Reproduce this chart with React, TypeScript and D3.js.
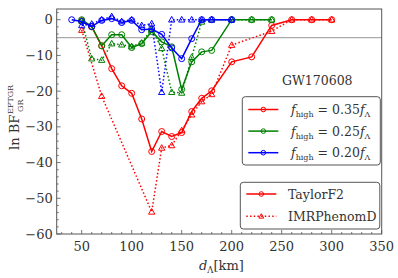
import * as d3 from "d3";

// Taylor F2 (solid, circles)
const dRed = [50, 60, 70, 80, 90, 100, 110, 120, 130, 140, 150, 160, 170, 180, 200, 220, 240, 260, 280, 300];
const redTF2 = [-0.3, -2, -7.3, -13.7, -18.5, -20.6, -27.8, -36.9, -31.3, -32.7, -31.6, -25.7, -22, -19.9, -11.8, -10.4, -1.6, 0, 0, 0];
const dGreen = [50, 60, 70, 80, 90, 100, 110, 120, 130, 140, 150, 160, 170, 180, 200, 220, 240];
const greenTF2 = [0, -1.9, -7.3, -4.2, -4.2, -7.8, -6.7, -3.3, -6.2, -7.6, -19.5, -11.8, -9, -8.6, 0, 0, 0];
const dBlue = [40, 50, 60, 70, 80, 90, 100, 110, 120, 130, 140, 150, 160, 170, 180, 200];
const blueTF2 = [0, -0.5, -1.9, -0.2, 0.3, -0.8, -0.2, -2.8, -2.6, -4.1, -7.9, -10.9, -5.3, 0, 0, 0];

// IMRPhenomD (dotted, triangles)
const dRedIMR = [50, 70, 120, 130, 140, 150, 160, 170, 180, 200, 240, 260, 280, 300];
const redIMR = [-2.9, -21.4, -53.8, -35.9, -35.2, -31, -26.6, -22.9, -20.9, -7.1, -3.2, 0, 0, 0];
const dGreenIMR = [50, 60, 70, 80, 90, 100, 110, 120, 130, 140, 150, 160, 170, 180, 200, 220, 240];
const greenIMR = [-0.3, -10.9, -11.3, -6.7, -7, -7.5, -6.5, -2.6, -8, -20.3, -20.5, -10.5, -0.6, 0, 0, 0, 0];
const dBlueIMR = [50, 60, 70, 80, 90, 100, 110, 120, 130, 140, 150, 160, 170, 180, 200];
const blueIMR = [-1.6, -1.2, 0, 0.9, -0.5, 0, -1.6, -1.1, -20.3, 0, 0, 0, 0, 0, 0];

const xTicks = [50, 100, 150, 200, 250, 300, 350];
const yTicks = [-60, -50, -40, -30, -20, -10, 0];
const threshold = -5;

const RED = "#ff0000";
const GREEN = "#008000";
const BLUE = "#0000ff";
const FONT = "'DejaVu Serif', serif";

const W = 398;
const H = 278;
const x = d3.scaleLinear().domain([25, 350]).range([56.7, 381.7]);
const y = d3.scaleLinear().domain([-60, 3]).range([234, 9]);

const line = d3
  .line<[number, number]>()
  .x((p) => x(p[0]))
  .y((p) => y(p[1]));

const zipPts = (ds: number[], vs: number[]) => ds.map((d, i) => [d, vs[i]] as [number, number]);

const triPath = (cx: number, cy: number, s: number) =>
  `M${cx},${cy - s} L${cx + s * 0.95},${cy + s * 0.7} L${cx - s * 0.95},${cy + s * 0.7} Z`;

function Series({ ds, vs, color, dotted }: { ds: number[]; vs: number[]; color: string; dotted: boolean }) {
  const pts = zipPts(ds, vs);
  return (
    <g>
      <path
        d={line(pts) || ""}
        fill="none"
        stroke={color}
        strokeWidth={1.5}
        strokeDasharray={dotted ? "1.5,2.2" : undefined}
      />
      {pts.map((p, i) =>
        dotted ? (
          <path key={i} d={triPath(x(p[0]), y(p[1]), 3.3)} fill="none" stroke={color} strokeWidth={1} />
        ) : (
          <circle key={i} cx={x(p[0])} cy={y(p[1])} r={3} fill="none" stroke={color} strokeWidth={1} />
        )
      )}
    </g>
  );
}

export default function App() {
  const xMinor = d3.range(30, 351, 10);
  const yMinor = d3.range(-60, 3, 2);
  const [x0, x1] = x.range();
  const [y0, y1] = y.range();
  const legend1 = [
    { c: RED, v: "0.35" },
    { c: GREEN, v: "0.25" },
    { c: BLUE, v: "0.20" },
  ];
  return (
    <svg width={W} height={H} style={{ position: "absolute", left: 0, top: 0, fontFamily: FONT }}>
      <rect width={W} height={H} fill="#fff" />
      {/* threshold line */}
      <line x1={x0} x2={x1} y1={y(threshold)} y2={y(threshold)} stroke="#aaaaaa" strokeWidth={1.2} />

      <Series ds={dRed} vs={redTF2} color={RED} dotted={false} />
      <Series ds={dRedIMR} vs={redIMR} color={RED} dotted={true} />
      <Series ds={dGreen} vs={greenTF2} color={GREEN} dotted={false} />
      <Series ds={dGreenIMR} vs={greenIMR} color={GREEN} dotted={true} />
      <Series ds={dBlue} vs={blueTF2} color={BLUE} dotted={false} />
      <Series ds={dBlueIMR} vs={blueIMR} color={BLUE} dotted={true} />

      {/* frame */}
      <rect x={x0} y={y1} width={x1 - x0} height={y0 - y1} fill="none" stroke="#555" strokeWidth={1} />

      {/* ticks */}
      {xMinor.map((t) => (
        <line key={"xm" + t} x1={x(t)} x2={x(t)} y1={y0} y2={y0 - (t % 50 === 0 ? 4 : 2)} stroke="#555" strokeWidth={0.8} />
      ))}
      {yMinor.map((t) => (
        <line key={"ym" + t} x1={x0} x2={x0 + (t % 10 === 0 ? 4 : 2)} y1={y(t)} y2={y(t)} stroke="#555" strokeWidth={0.8} />
      ))}
      {xTicks.map((t) => (
        <text key={"xt" + t} x={x(t)} y={y0 + 17} textAnchor="middle" fontSize={13} fill="#333">
          {t}
        </text>
      ))}
      {yTicks.map((t) => (
        <text key={"yt" + t} x={x0 - 4} y={y(t) + 4.5} textAnchor="end" fontSize={13} fill="#333">
          {t < 0 ? "\u2212" + Math.abs(t) : t}
        </text>
      ))}

      {/* axis labels */}
      <g transform="translate(19,150) rotate(-90)" fill="#333">
        <text x={0} y={0} fontSize={13}>ln BF</text>
        <text x={36} y={-6} fontSize={8}>EFTGR</text>
        <text x={38} y={4} fontSize={8}>GR</text>
      </g>
      <text x={199} y={270} fontSize={13} fill="#333">
        <tspan fontStyle="italic">d</tspan>
        <tspan fontSize={8.5} dy={3}>Λ</tspan>
        <tspan dy={-3}>[km]</tspan>
      </text>

      <text x={282} y={85} fontSize={12.5} fill="#333">GW170608</text>

      {/* legend 1 */}
      <rect x={242.3} y={96.7} width={138} height={68.3} rx={3} fill="#fff" fillOpacity={0.8} stroke="#555" strokeWidth={1} />
      {legend1.map((e, i) => {
        const ly = 109.5 + i * 21.6;
        return (
          <g key={e.v}>
            <line x1={248.3} x2={278.3} y1={ly} y2={ly} stroke={e.c} strokeWidth={1.5} />
            <circle cx={263.3} cy={ly} r={2.3} fill="none" stroke={e.c} strokeWidth={1} />
            <text x={291} y={ly + 4.5} fontSize={12.5} fill="#333">
              <tspan fontStyle="italic">f</tspan>
              <tspan fontSize={8} dy={3}>high</tspan>
              <tspan dy={-3}> = {e.v}</tspan>
              <tspan fontStyle="italic">f</tspan>
              <tspan fontSize={8} dy={3}>Λ</tspan>
            </text>
          </g>
        );
      })}

      {/* legend 2 */}
      <rect x={240.3} y={182.3} width={139.5} height={46.7} rx={3} fill="#fff" fillOpacity={0.8} stroke="#555" strokeWidth={1} />
      <line x1={246.3} x2={276.3} y1={194} y2={194} stroke={RED} strokeWidth={1.5} />
      <circle cx={261.3} cy={194} r={2.3} fill="none" stroke={RED} strokeWidth={1} />
      <text x={288} y={198.5} fontSize={12.5} fill="#333">TaylorF2</text>
      <line x1={246.3} x2={276.3} y1={216.3} y2={216.3} stroke={RED} strokeWidth={1.5} strokeDasharray="1.5,2.2" />
      <path d={triPath(261.3, 216.3, 2.6)} fill="none" stroke={RED} strokeWidth={1} />
      <text x={288} y={220.8} fontSize={12.5} fill="#333">IMRPhenomD</text>
    </svg>
  );
}
